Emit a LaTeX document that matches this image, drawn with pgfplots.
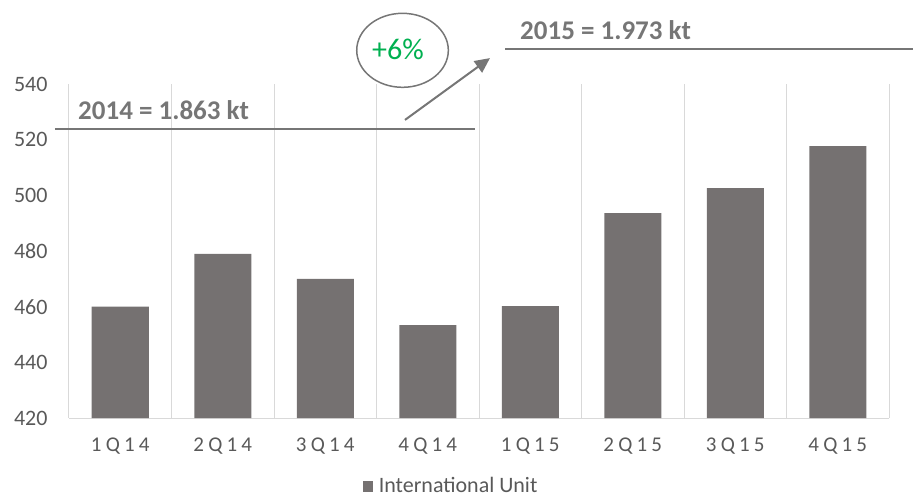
\documentclass[border=0pt]{standalone}
\usepackage{pgfplots}
\pgfplotsset{compat=1.18}
\usepackage{fontspec}
\setmainfont{Carlito}
\usetikzlibrary{arrows.meta}
\definecolor{barc}{RGB}{117,113,113}
\definecolor{txt}{RGB}{89,89,89}
\definecolor{ann}{RGB}{118,118,118}
\definecolor{grn}{RGB}{0,176,80}
\definecolor{grd}{RGB}{217,217,217}
\begin{document}
\begin{tikzpicture}
\useasboundingbox (0,0) rectangle (913pt,501pt);
\begin{axis}[
  at={(69pt,83pt)}, anchor=south west,
  scale only axis, width=820pt, height=334pt,
  xmin=-0.5, xmax=7.5, ymin=420, ymax=540,
  ytick={420,440,...,540},
  xtick={0,...,7},
  xticklabels={1Q14,2Q14,3Q14,4Q14,1Q15,2Q15,3Q15,4Q15},
  minor xtick={-0.5,0.5,...,7.5},
  xminorgrids, minor grid style={grd, line width=1pt},
  major tick length=0pt, minor tick length=0pt,
  axis x line*=bottom, axis y line*=left,
  x axis line style={grd, line width=1pt, -},
  y axis line style={draw=none},
  ticklabel style={text=txt},
  yticklabel style={font=\fontsize{22}{26}\selectfont, xshift=-18pt},
  xticklabel style={font=\fontsize{21}{25}\selectfont\addfontfeature{LetterSpace=20}, yshift=-16pt},
  /pgf/number format/assume math mode=true,
  ybar, bar width=57pt,
  clip=false,
  legend style={at={(0.466,-0.203)}, anchor=center, draw=none, fill=none,
    font=\fontsize{22}{26}\selectfont, text=txt, inner sep=0pt},
  legend image code/.code={\fill[barc] (0pt,-6pt) rectangle (10pt,5pt);},
  legend cell align=left,
  legend style={/tikz/every even column/.append style={column sep=0pt}},
]
\addplot[fill=barc, draw=none] coordinates {(0,460) (1,479) (2,470) (3,453.4) (4,460.2) (5,493.6) (6,502.6) (7,517.7)};
\addlegendentry{\hspace{4pt}International Unit}
\draw[ann, line width=2pt] (axis cs:-0.637,523.8) -- (axis cs:3.46,523.8);
\draw[ann, line width=2pt] (axis cs:3.754,552.6) -- (axis cs:7.734,552.6);
\draw[ann, line width=2pt, -{Triangle[length=15pt,width=14pt]}] (axis cs:2.778,527.1) -- (axis cs:3.607,549.3);
\draw[ann, line width=1.5pt] (axis cs:2.754,552.1) ellipse [x radius=45.8pt, y radius=37pt];
\node[anchor=west, text=ann, font=\fontsize{27}{31}\selectfont\bfseries, inner sep=0pt] at (axis cs:-0.412,530.7) {2014 = 1.863 kt};
\node[anchor=west, text=ann, font=\fontsize{27}{31}\selectfont\bfseries, inner sep=0pt] at (axis cs:3.9,559.4) {2015 = 1.973 kt};
\node[text=grn, font=\fontsize{30}{34}\selectfont, inner sep=0pt] at (axis cs:2.71,552.6) {+6\%};
\end{axis}
\end{tikzpicture}
\end{document}
